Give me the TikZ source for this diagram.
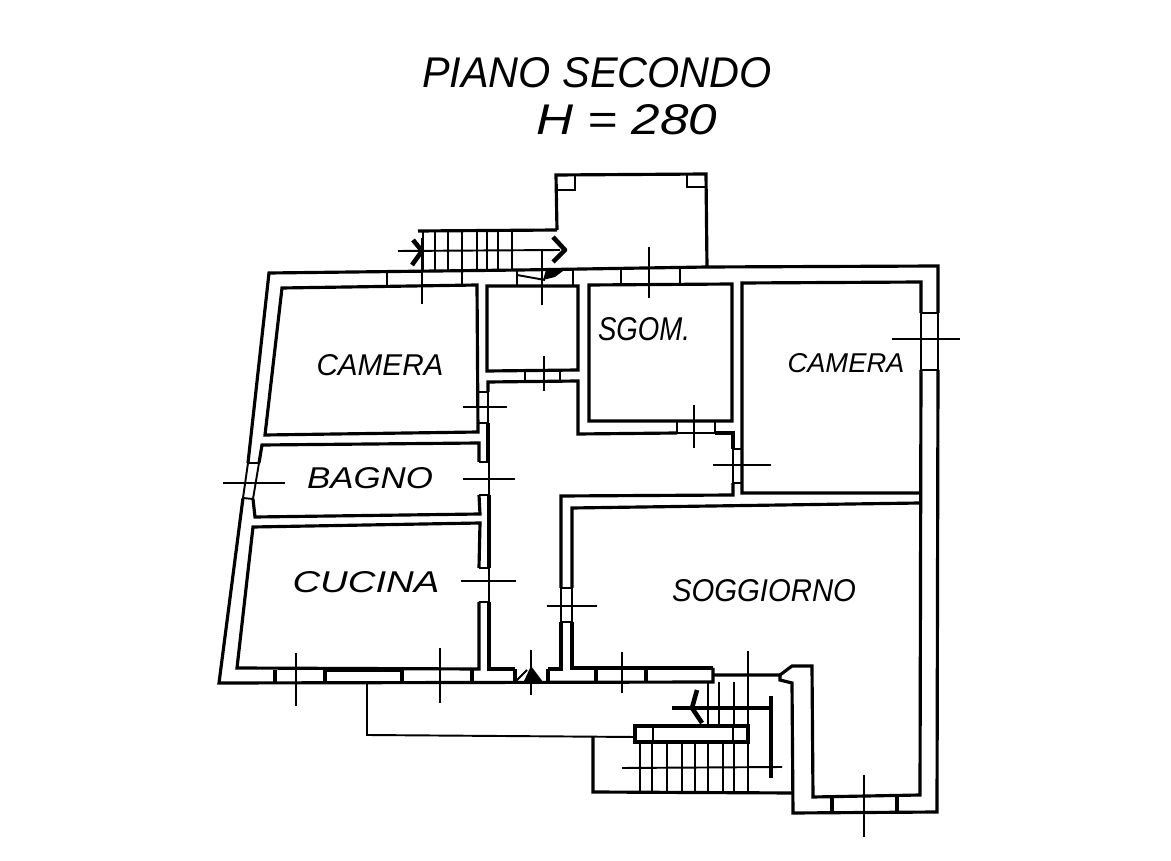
\documentclass[tikz,border=0pt]{standalone}
\usepackage{graphicx}
\usepackage{fontspec}
\setmainfont{Liberation Sans}
\newcommand{\fittext}[3]{\resizebox{#1cm}{#2cm}{\itshape #3}}
\tikzset{
  wall/.style={line width=1.8pt},
  thinwall/.style={line width=1.1pt},
  tickline/.style={line width=1.1pt},
  headline/.style={line width=2.6pt, line join=round},
  roomname/.style={inner sep=0pt},
  titlename/.style={inner sep=0pt}
}
\begin{document}
\begin{tikzpicture}[x=0.02cm,y=-0.02cm]
    \useasboundingbox (0,0) rectangle (1171,861);

    % Title
    \node[titlename] (title) at (597,73) {\fittext{7.0}{0.6}{PIANO SECONDO}};
    \node[titlename] (height) at (627,120) {\fittext{3.62}{0.6}{H = 280}};

    % Outer wall
    \draw[wall] (243,498) -- (219,683) -- (713,682) -- (713,668);
    \draw[wall] (248,463) -- (269,273) -- (520,270) -- (707,267) -- (938,266) -- (938,313);
    \draw[wall] (938,370) -- (937,812) -- (793,813) -- (792,683) -- (780,680) -- (780,675) -- (713,675);
    \draw[wall] (780,675) -- (792,666) -- (812,666) -- (813,797) -- (920,795) -- (921,370);
    \draw[wall] (921,313) -- (921,282) -- (742,283) -- (742,493) -- (921,493);
    \draw[thinwall] (921,313) -- (938,313) (921,370) -- (938,370);
    \draw[thinwall] (921,313) -- (921,370) (938,313) -- (938,370);

    % Left wall windows
    \draw[thinwall] (243,498) -- (253,499) (248,463) -- (259,463);
    \draw[thinwall] (248,463) -- (243,498) (259,463) -- (253,499);

    % Camera
    \draw[wall] (282,288) -- (477,285) -- (478,432) -- (265,435) -- cycle;

    % Bagno
    \draw[wall] (259,463) -- (262,445) -- (479,443) -- (479,462);
    \draw[wall] (253,499) -- (255,517) -- (480,514) -- (479,495);

    % Cucina
    \draw[wall] (479,568) -- (480,523) -- (253,527) -- (237,668) -- (479,669) -- (479,602);

    % Corridor left side
    \draw[wall] (487,286) -- (578,286) -- (578,370) -- (487,371) -- cycle;
    \draw[wall] (488,392) -- (488,382) -- (578,381) -- (578,434) -- (677,433);
    \draw[wall] (715,433) -- (733,433) -- (733,449);
    \draw[wall] (733,483) -- (733,495) -- (561,496) -- (561,588);
    \draw[wall] (561,622) -- (561,669) -- (548,669);
    \draw[wall] (488,423) -- (488,462) (489,495) -- (489,568) (489,602) -- (489,669) -- (515,669);
    \draw[thinwall] (478,392) -- (488,392) (478,423) -- (488,423);
    \draw[thinwall] (479,462) -- (489,462) (479,495) -- (489,495);
    \draw[thinwall] (479,568) -- (489,568) (479,602) -- (489,602);
    \draw[thinwall] (489,462) -- (489,495) (489,568) -- (489,602) (488,392) -- (488,423);

    % Sgom
    \draw[wall] (589,285) -- (732,284) -- (732,421) -- (589,421) -- cycle;
    \draw[thinwall] (677,421) -- (677,433) (715,421) -- (715,433) (677,433) -- (715,433);
    \draw[thinwall] (733,449) -- (742,449) (733,483) -- (742,483) (733,449) -- (733,483);

    % Soggiorno
    \draw[wall] (572,588) -- (572,508) -- (920,503);
    \draw[wall] (572,622) -- (572,668) -- (713,668);
    \draw[thinwall] (561,588) -- (572,588) (561,622) -- (572,622) (561,588) -- (561,622) (572,588) -- (572,622);

    % Windows
    \draw[thinwall] (387,272) -- (387,287) (462,271) -- (462,286);
    \draw[thinwall] (621,269) -- (621,285) (680,268) -- (680,284);
    \draw[thinwall] (525,370) -- (525,382) (560,370) -- (560,382);
    \draw[wall] (275,670) -- (275,683) (325,670) -- (325,683);
    \draw[wall] (325,670) -- (402,670) -- (402,683);
    \draw[wall] (472,669) -- (472,683) (515,669) -- (515,682) (548,669) -- (548,682);
    \draw[wall] (596,668) -- (596,682) (646,668) -- (646,682);
    \draw[wall] (832,797) -- (832,812) (897,796) -- (897,812);

    % Door marks
    \draw[thinwall] (515,682) -- (527,670);
    \fill (524,681) -- (531,666) -- (543,682) -- cycle;
    \draw[thinwall] (517,270) -- (517,285) (573,270) -- (573,285);
    \draw[thinwall] (517,275) -- (545,280);
    \fill (543,280) -- (546,270) -- (567,268) -- (555,277) -- cycle;

    % Balcony
    \draw[wall] (557,230) -- (556,175) -- (706,174) -- (707,267);
    \draw[thinwall] (556,190) -- (575,190) -- (575,176);
    \draw[thinwall] (687,174) -- (687,187) -- (706,187);

    % Upper stair
    \draw[wall] (418,231) -- (557,230);
    \foreach \stepx in {423,435,448,462,477,487,498,512}
      \draw[thinwall] (\stepx,231) -- (\stepx,270);
    \draw[thinwall] (542,250) -- (542,270);
    \draw[tickline] (398,251) -- (560,250);
    \draw[headline] (413,240) -- (422,251) -- (412,265);
    \draw[headline] (553,237) -- (565,250) -- (553,262);

    % Lower stair
    \draw[thinwall] (367,683) -- (367,735) -- (635,737);
    \draw[wall] (593,737) -- (593,792) -- (793,793);
    \draw[wall] (635,742) -- (635,726) -- (748,726) -- (748,742) -- cycle;
    \draw[thinwall] (653,726) -- (653,742) (733,726) -- (733,742);
    \foreach \stepx in {640,652,667,682,695,708,723,734,748}
      \draw[thinwall] (\stepx,742) -- (\stepx,792);
    \foreach \stepx in {708,719,734,748}
      \draw[thinwall] (\stepx,682) -- (\stepx,726);
    \draw[tickline] (622,768) -- (782,767);
    \draw[wall] (771,696) -- (771,778);
    \draw[wall] (672,708) -- (773,708);
    \draw[headline] (697,690) -- (692,708) -- (702,723);
    \draw[thinwall] (748,651) -- (748,682);

    % Section ticks
    \draw[tickline] (422,238) -- (422,304);
    \draw[tickline] (542,250) -- (542,305);
    \draw[tickline] (649,247) -- (649,298);
    \draw[tickline] (892,339) -- (960,339);
    \draw[tickline] (544,356) -- (544,391);
    \draw[tickline] (463,407) -- (507,407);
    \draw[tickline] (694,405) -- (694,448);
    \draw[tickline] (713,465) -- (771,465);
    \draw[tickline] (223,483) -- (285,483);
    \draw[tickline] (463,479) -- (515,479);
    \draw[tickline] (461,581) -- (516,581);
    \draw[tickline] (547,606) -- (597,606);
    \draw[tickline] (296,653) -- (296,706);
    \draw[tickline] (440,648) -- (440,703);
    \draw[tickline] (531,650) -- (531,695);
    \draw[tickline] (622,652) -- (622,693);
    \draw[tickline] (864,775) -- (864,837);

    % Rooms
    \node[roomname] (camera1) at (380,365) {\fittext{2.54}{0.42}{CAMERA}};
    \node[roomname] (sgom) at (644,329) {\fittext{1.84}{0.46}{SGOM.}};
    \node[roomname] (camera2) at (846,363) {\fittext{2.34}{0.38}{CAMERA}};
    \node[roomname] (bagno) at (370,478) {\fittext{2.52}{0.42}{BAGNO}};
    \node[roomname] (cucina) at (366,582) {\fittext{2.94}{0.42}{CUCINA}};
    \node[roomname] (soggiorno) at (764,591) {\fittext{3.68}{0.44}{SOGGIORNO}};
\end{tikzpicture}
\end{document}
